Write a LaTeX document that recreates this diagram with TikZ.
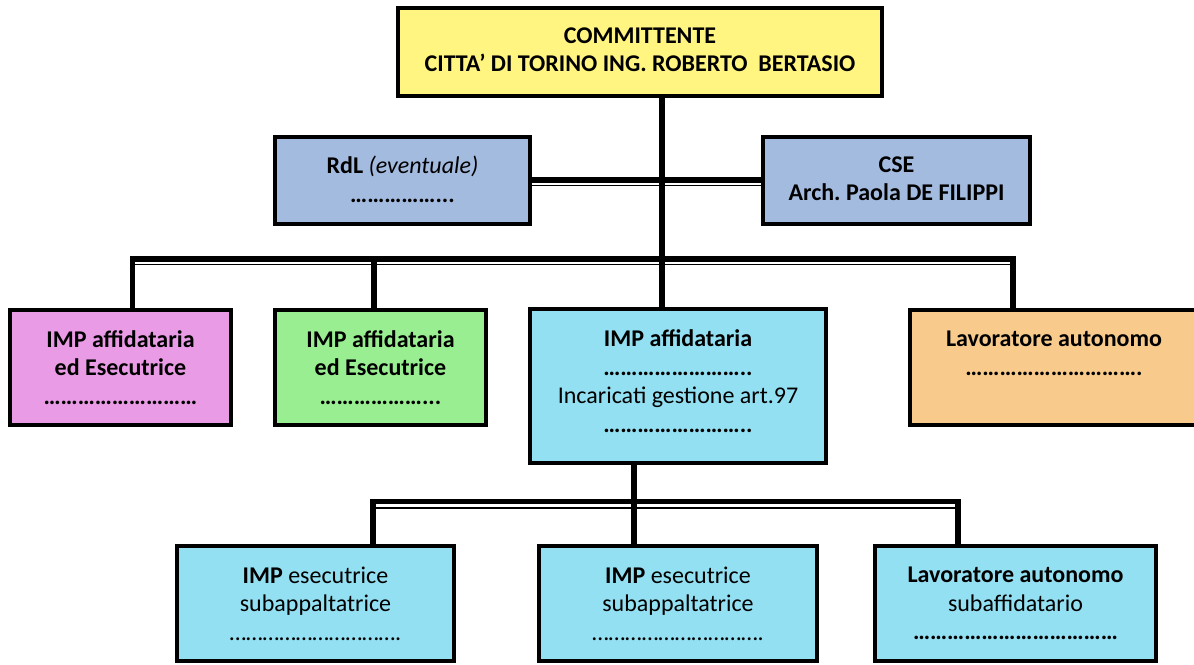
\documentclass[tikz,border=0pt]{standalone}
\usepackage{fontspec}
\setmainfont{Carlito}
\definecolor{cyel}{HTML}{FFF580}
\definecolor{cgray}{HTML}{A4BBE0}
\definecolor{cpink}{HTML}{E99BE6}
\definecolor{cgreen}{HTML}{98EE90}
\definecolor{ccyan}{HTML}{93E0F2}
\definecolor{corange}{HTML}{F8CB8D}
\begin{document}
\begin{tikzpicture}[x=1pt,y=-1pt,
  box/.style={draw=black, line width=3.5pt, align=center, inner sep=0pt,
    font=\fontsize{24}{28.5}\selectfont},
  bus/.style={line width=5.5pt, line join=miter, line cap=butt},
  busthin/.style={line width=1.6pt}]
\useasboundingbox (0,0) rectangle (1194,664);
% boxes
\node[box, fill=cyel, minimum width=484pt, minimum height=88pt] (yel) at (640,52)
  {\textbf{COMMITTENTE}\\\textbf{CITTA’ DI TORINO ING.\ ROBERTO\ \ BERTASIO}\rule[-5pt]{0pt}{5pt}};
\node[box, fill=cgray, minimum width=255pt, minimum height=87pt] (rdl) at (402.5,180.5)
  {\textbf{RdL} \textit{(eventuale)}\\\textbf{……………...}\rule[-3pt]{0pt}{3pt}};
\node[box, fill=cgray, minimum width=267pt, minimum height=87pt] (cse) at (896.5,180.5)
  {\textbf{CSE}\\\textbf{Arch.\ Paola DE FILIPPI}\rule[-4pt]{0pt}{4pt}};
\node[box, fill=cpink, minimum width=221pt, minimum height=115pt] (pink) at (120.5,367.5)
  {\textbf{IMP affidataria}\\\textbf{ed Esecutrice}\\\textbf{………………………}};
\node[box, fill=cgreen, minimum width=211pt, minimum height=115pt] (green) at (380.5,367.5)
  {\textbf{IMP affidataria}\\\textbf{ed Esecutrice}\\\textbf{………………...}};
\node[box, fill=ccyan, minimum width=296pt, minimum height=154pt] (imp) at (678,386)
  {\textbf{IMP affidataria}\\\textbf{……………………..}\\Incaricati gestione art.97\\\textbf{……………………..}\rule[-10pt]{0pt}{10pt}};
\node[box, fill=corange, minimum width=288pt, minimum height=115pt] (ora) at (1054,367.5)
  {\textbf{Lavoratore autonomo}\\\textbf{………………………….}\\\mbox{}};
\node[box, fill=ccyan, minimum width=277pt, minimum height=115pt] (b1) at (315.5,603.5)
  {\textbf{IMP} esecutrice\\subappaltatrice\\………………………….};
\node[box, fill=ccyan, minimum width=278pt, minimum height=115pt] (b2) at (678,603.5)
  {\textbf{IMP} esecutrice\\subappaltatrice\\………………………….};
\node[box, fill=ccyan, minimum width=281pt, minimum height=115pt] (b3) at (1015.5,603.5)
  {\textbf{Lavoratore autonomo}\\subaffidatario\\\textbf{………………………………}};
% connector x positions
\coordinate (tx) at (662,0);
\coordinate (lx) at (132.5,0);
\coordinate (gx) at (374,0);
\coordinate (ox) at (1013,0);
\coordinate (mx) at (634,0);
\coordinate (b1x) at (373,0);
\coordinate (b3x) at (958,0);
\coordinate (hy) at (0,259);
\coordinate (hy2) at (0,501.5);
% RdL - CSE
\draw[bus] (rdl.east |- 0,180) -- (cse.west |- 0,180);
\draw[busthin] (rdl.east |- 0,185.5) -- (cse.west |- 0,185.5);
% trunk
\draw[bus] (yel.south -| tx) -- (imp.north -| tx);
% main bus
\draw[bus] (pink.north -| lx) -- (lx |- hy) -- (ox |- hy) -- (ora.north -| ox);
\draw[bus] (green.north -| gx) -- (gx |- hy);
\draw[busthin] (135,264.6) -- (1010.5,264.6);
% lower trunk and bus
\draw[bus] (imp.south -| mx) -- (b2.north -| mx);
\draw[bus] (b1.north -| b1x) -- (b1x |- hy2) -- (b3x |- hy2) -- (b3.north -| b3x);
\draw[busthin] (375.5,507.8) -- (955.5,507.8);
\end{tikzpicture}
\end{document}
